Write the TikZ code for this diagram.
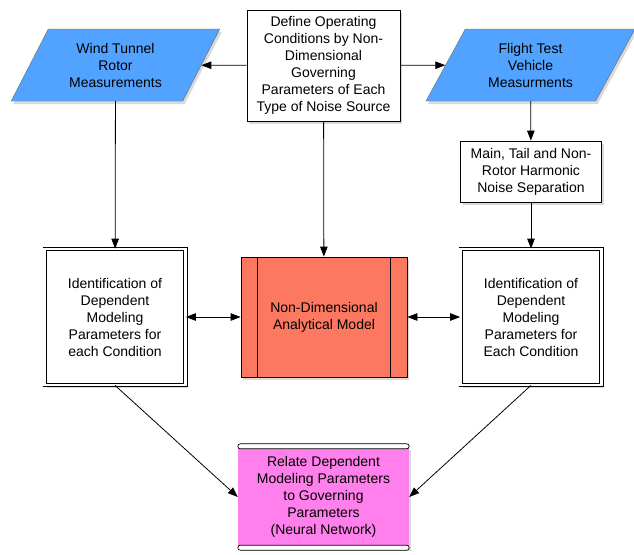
\documentclass[tikz,border=0pt]{standalone}
\usepackage{fontspec}
\setmainfont{Liberation Sans}
\usetikzlibrary{shapes.geometric,shadows,arrows.meta}
\definecolor{sourceblue}{RGB}{82,163,255}
\definecolor{modelred}{RGB}{252,120,96}
\definecolor{netpink}{RGB}{255,128,236}
\begin{document}
\begin{tikzpicture}[x=1pt,y=-1pt]
    % line width of boxes and connectors
    \def\lw{0.8pt}
    % node style definition
    \tikzstyle{castshadow} = [drop shadow={shadow xshift=2pt,shadow yshift=-3pt,opacity=0.3}];
    \tikzstyle{textual} = [align=center, inner sep=0pt,
    	font=\fontsize{14}{17}\selectfont];
    \tikzstyle{block} = [
    	textual, draw, fill=white, rectangle, line width=\lw, castshadow ];
    \tikzstyle{dblock} = [
    	block, double=white, double distance=2.5pt, line width=0.8pt,
    	minimum width=140.9pt, minimum height=135.9pt ];
    \tikzstyle{data} = [
    	textual, trapezium, trapezium left angle=60, trapezium right angle=120,
    	trapezium stretches, draw=black!60, fill=sourceblue,
    	minimum width=209pt, minimum height=72pt, castshadow ];
    \tikzstyle{capbar} = [draw, fill=white, line width=0.7pt, rounded corners=2.5pt];
    \tikzstyle{link} = [-{Triangle[length=10pt,width=7.5pt]}, line width=\lw];
    \tikzstyle{dlink} = [{Triangle[length=10pt,width=7.5pt]}-{Triangle[length=10pt,width=7.5pt]}, line width=\lw];
    \useasboundingbox (0,0) rectangle (634,554);
    % top row
    \node[data] (wind) at (115.5,65) {Wind Tunnel\\Rotor\\Measurements};
    \node[block, minimum width=153pt, minimum height=111pt] (define) at (323.5,65.5)
    	{Define Operating\\Conditions by Non-\\Dimensional\\Governing\\Parameters of Each\\Type of Noise Source};
    \node[data] (flight) at (530.5,65) {Flight Test\\Vehicle\\Measurments};
    \node[block, minimum width=141pt, minimum height=61pt] (split) at (531,171.5)
    	{Main, Tail and Non-\\Rotor Harmonic\\Noise Separation};
    % middle row
    \node[dblock] (identL) at (115,317)
    	{Identification of\\Dependent\\Modeling\\Parameters for\\each Condition};
    \node[block, fill=modelred, minimum width=166pt, minimum height=120pt,
    	path picture={
    	  \draw[line width=\lw] ([xshift=16.5pt]path picture bounding box.north west)
    	    -- ([xshift=16.5pt]path picture bounding box.south west);
    	  \draw[line width=\lw] ([xshift=-16.5pt]path picture bounding box.north east)
    	    -- ([xshift=-16.5pt]path picture bounding box.south east);
    	}] (model) at (324,317) {Non-Dimensional\\Analytical Model};
    \node[dblock] (identR) at (531,317)
    	{Identification of\\Dependent\\Modeling\\Parameters for\\Each Condition};
    % bottom
    \node[textual, fill=netpink, minimum width=171pt, minimum height=101pt, castshadow] (relate) at (323.5,497)
    	{Relate Dependent\\Modeling Parameters\\to Governing\\Parameters\\(Neural Network)};
    \draw[capbar] ([yshift=2.5pt]relate.north west) rectangle ([yshift=-2.5pt]relate.north east);
    \draw[capbar] ([yshift=2.5pt]relate.south west) rectangle ([yshift=-2.5pt]relate.south east);
    % connectors
    \draw[link] (define) -- (wind);
    \draw[link] (define) -- (flight);
    \draw[link] (flight) -- (split);
    \draw[link] (wind) -- (identL);
    \draw[link] (define) -- (model);
    \draw[link] (split) -- (identR);
    \draw[dlink] (identL) -- (model);
    \draw[dlink] (model) -- (identR);
    \draw[link] (identL.south) -- (relate.west);
    \draw[link] (identR.south) -- (relate.east);
\end{tikzpicture}
\end{document}
